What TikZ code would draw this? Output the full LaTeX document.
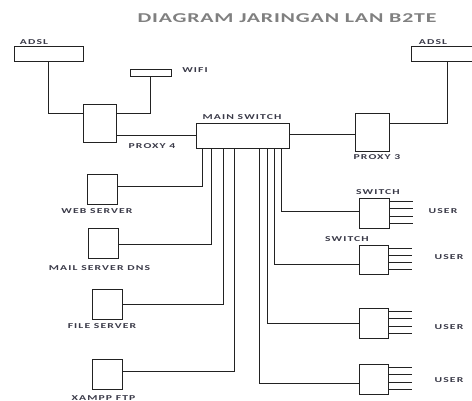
\documentclass[tikz,border=0pt]{standalone}
\usepackage{fontspec}
\setmainfont{Carlito}
\newfontfamily\lblfont[FakeStretch=1.55,LetterSpace=15]{Carlito}
\newfontfamily\ttlfont[FakeStretch=1.62,LetterSpace=6]{Carlito}
\definecolor{lblc}{HTML}{3A3A48}
\definecolor{ttlc}{HTML}{808080}
\definecolor{linec}{HTML}{222222}
\tikzset{
  box/.style={draw=linec, line width=0.9pt, fill=white, inner sep=0pt},
  conn/.style={draw=linec, line width=0.9pt},
  lbl/.style={font=\lblfont\bfseries\fontsize{7.5}{9}\selectfont, text=lblc, inner sep=0pt},
  ttl/.style={font=\ttlfont\bfseries\fontsize{13.5}{15}\selectfont, text=ttlc, inner sep=0pt},
}
\begin{document}
\begin{tikzpicture}[x=1pt,y=-1pt]
\useasboundingbox (0,0) rectangle (472,401);
\clip (0,0) rectangle (472,401);

\node[ttl] (title) at (287,18) {DIAGRAM JARINGAN LAN B2TE};

% boxes
\node[box, minimum width=69pt, minimum height=15pt] (adslL) at (48.5,53.5) {};
\node[box, minimum width=41pt, minimum height=7pt] (wifi) at (150.5,72.5) {};
\node[box, minimum width=33pt, minimum height=38pt] (proxy4) at (99.5,123) {};
\node[box, minimum width=93pt, minimum height=25pt] (main) at (242.5,135.5) {};
\node[box, minimum width=34pt, minimum height=38pt] (proxy3) at (372,132) {};
\node[box, minimum width=72pt, minimum height=15pt] (adslR) at (447,53.5) {};
\node[box, minimum width=30pt, minimum height=30pt] (web) at (102,189) {};
\node[box, minimum width=30pt, minimum height=30pt] (mail) at (103,243) {};
\node[box, minimum width=30pt, minimum height=30pt] (file) at (107,304) {};
\node[box, minimum width=30pt, minimum height=30pt] (xampp) at (107,374) {};
\node[box, minimum width=30pt, minimum height=30pt] (sw1) at (374,213) {};
\node[box, minimum width=29pt, minimum height=29pt] (sw2) at (373.5,259.5) {};
\node[box, minimum width=29pt, minimum height=30pt] (sw3) at (373.5,323) {};
\node[box, minimum width=29pt, minimum height=30pt] (sw4) at (373.5,379) {};

% labels
\node[lbl] (lAdslL) at (34,42) {ADSL};
\node[lbl] (lWifi) at (195,70) {WIFI};
\node[lbl] (lProxy4) at (152,146) {PROXY 4};
\node[lbl] (lMain) at (242,117) {MAIN SWITCH};
\node[lbl] (lProxy3) at (377,157) {PROXY 3};
\node[lbl] (lAdslR) at (433,42) {ADSL};
\node[lbl] (lWeb) at (97,211) {WEB SERVER};
\node[lbl] (lMail) at (99.5,268) {MAIL SERVER DNS};
\node[lbl] (lFile) at (102,326) {FILE SERVER};
\node[lbl] (lXampp) at (103.5,398) {XAMPP FTP};
\node[lbl] (lSw1) at (378,192) {SWITCH};
\node[lbl] (lSw2) at (347,239) {SWITCH};
\node[lbl] (lU1) at (443,211) {USER};
\node[lbl] (lU2) at (449,257) {USER};
\node[lbl] (lU3) at (449,327) {USER};
\node[lbl] (lU4) at (449,380) {USER};

% connectors top
\draw[conn] (adslL.south) |- (proxy4.west |- 0,113);
\draw[conn] (wifi.south) |- (proxy4.east |- 0,113);
\draw[conn] (proxy4.east |- 0,135) -- (main.west |- 0,135);
\draw[conn] (main.east |- 0,134) -- (proxy3.west |- 0,134);
\draw[conn] (proxy3.east |- 0,123) -| (adslR.south);

% connectors from main switch down
\draw[conn] (main.south -| 202,0) |- (web.east |- 0,186);
\draw[conn] (main.south -| 211,0) |- (mail.east |- 0,244);
\draw[conn] (main.south -| 223,0) |- (file.east |- 0,304);
\draw[conn] (main.south -| 234,0) |- (xampp.east |- 0,371);
\draw[conn] (main.south -| 281,0) |- (sw1.west |- 0,211);
\draw[conn] (main.south -| 274,0) |- (sw2.west |- 0,264);
\draw[conn] (main.south -| 267,0) |- (sw3.west |- 0,323);
\draw[conn] (main.south -| 259,0) |- (sw4.west |- 0,383);

% user lines
\foreach \s in {sw1,sw2,sw3,sw4}{
  \foreach \d in {-11.5,-4.5,3,10}{
    \draw[conn, line width=0.7pt] ([yshift=-\d pt]\s.east) -- ++(24,0);
  }
}
\end{tikzpicture}
\end{document}
